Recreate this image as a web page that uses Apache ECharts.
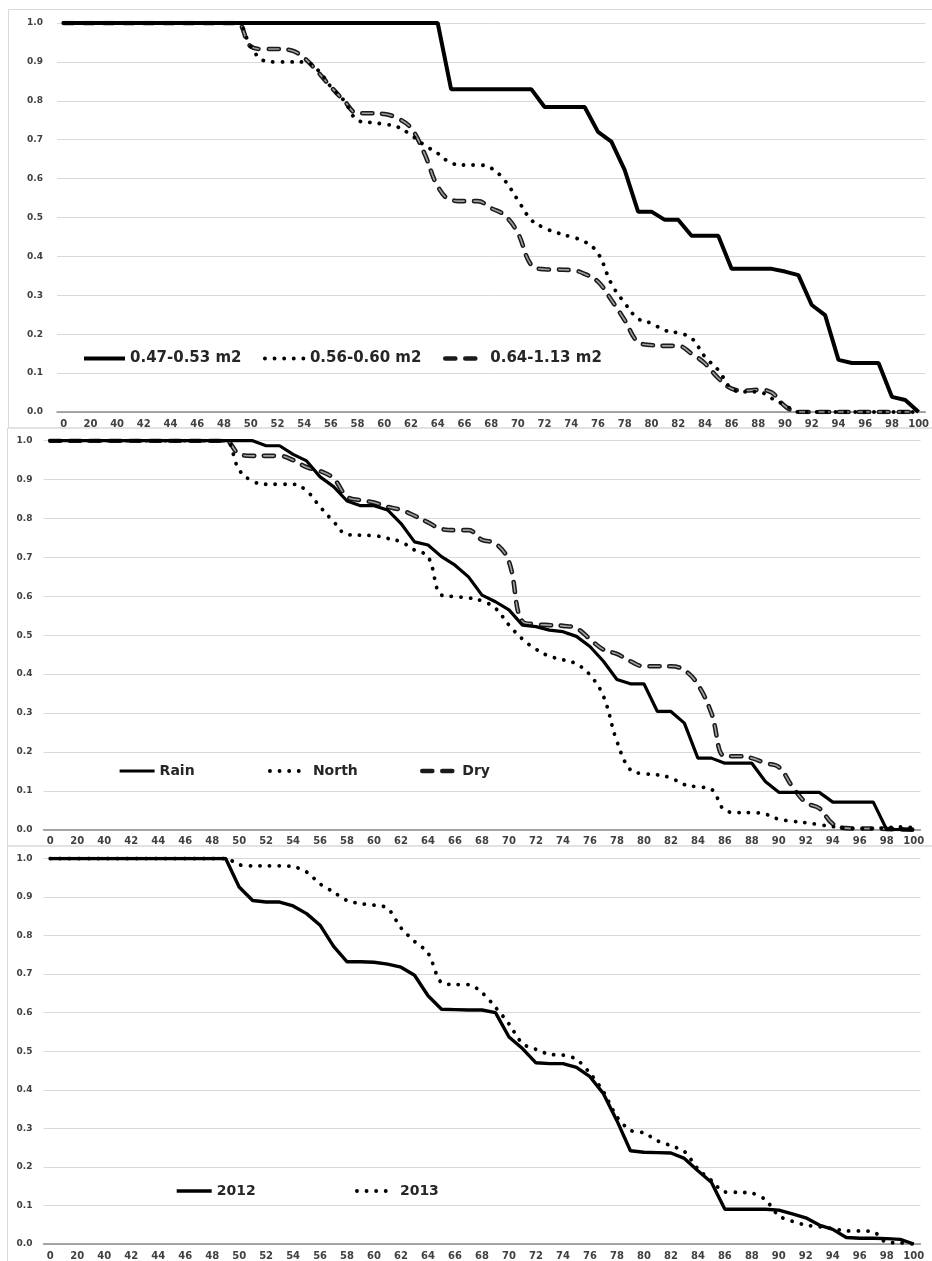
<!DOCTYPE html>
<html><head><meta charset="utf-8">
<script src="https://cdn.jsdelivr.net/npm/echarts@6.0.0/dist/echarts.min.js"></script>
<style>html,body{margin:0;padding:0;background:#fff}#c{width:932px;height:1261px}</style>
</head><body><div id="c"></div><script>
// categories (x axis)
const categories = ['0','10','20','30','40','41','42','43','44','45','46','47','48','49','50','51','52','53','54','55','56','57','58','59','60','61','62','63','64','65','66','67','68','69','70','71','72','73','74','75','76','77','78','79','80','81','82','83','84','85','86','87','88','89','90','91','92','93','94','95','96','97','98','99','100'];
const yTicks = [0,0.1,0.2,0.3,0.4,0.5,0.6,0.7,0.8,0.9,1.0];

// Panel 1
const size047 = [1,1,1,1,1,1,1,1,1,1,1,1,1,
 1,1,1,1,1,1,1,1,1,1,1,1,1,1,1,1,
 0.83,0.83,0.83,0.83,0.83,0.83,0.83,0.784,0.784,0.784,0.784,0.72,0.695,0.622,0.515,0.515,0.494,0.494,0.453,0.453,0.453,0.368,0.368,0.368,0.368,0.361,0.352,0.275,0.249,0.134,0.126,0.126,0.126,0.039,0.031,0];
const size056 = [1,1,1,1,1,1,1,1,1,1,1,1,1,
 1,0.94,0.903,0.90,0.90,0.90,0.88,0.836,0.80,0.75,0.744,0.74,0.733,0.712,0.686,0.665,
 0.64,0.635,0.635,0.627,0.596,0.545,0.494,0.473,0.46,0.45,0.438,0.408,0.33,0.28,0.24,0.228,0.21,0.203,0.19,0.142,0.108,0.06,0.052,0.052,0.035,0.018,0,0,0,0,0,0,0,0,0,0];
const size064 = [1,1,1,1,1,1,1,1,1,1,1,1,1,
 1,0.94,0.933,0.933,0.93,0.91,0.875,0.836,0.80,0.768,0.768,0.766,0.755,0.73,0.665,0.58,
 0.545,0.542,0.542,0.524,0.506,0.46,0.378,0.367,0.366,0.365,0.355,0.335,0.288,0.236,0.18,0.172,0.17,0.17,0.15,0.125,0.087,0.06,0.055,0.057,0.05,0.015,0,0,0,0,0,0,0,0,0,0];

// Panel 2
const rain = [1,1,1,1,1,1,1,1,1,1,1,1,1,
 1,1,1,0.987,0.987,0.965,0.948,0.907,0.882,0.845,0.833,0.833,0.822,0.787,0.74,0.732,
 0.702,0.68,0.65,0.603,0.586,0.565,0.526,0.522,0.513,0.509,0.497,0.471,0.433,0.386,0.375,0.375,0.304,0.304,0.274,0.184,0.184,0.171,0.171,0.171,0.124,0.096,0.096,0.096,0.096,0.071,0.071,0.071,0.071,0,0,0];
const north = [1,1,1,1,1,1,1,1,1,1,1,1,1,
 1,0.925,0.896,0.888,0.888,0.888,0.871,0.83,0.792,0.759,0.757,0.756,0.749,0.74,0.719,0.702,
 0.603,0.599,0.596,0.588,0.569,0.526,0.49,0.464,0.446,0.437,0.426,0.398,0.343,0.227,0.154,0.144,0.141,0.133,0.116,0.11,0.104,0.05,0.044,0.044,0.04,0.027,0.022,0.018,0.013,0.008,0.004,0.003,0.003,0.005,0.007,0.005];
const dry = [1,1,1,1,1,1,1,1,1,1,1,1,1,
 1,0.966,0.961,0.961,0.961,0.95,0.932,0.922,0.903,0.856,0.847,0.841,0.83,0.822,0.807,0.79,
 0.773,0.77,0.77,0.745,0.736,0.689,0.535,0.528,0.526,0.524,0.518,0.49,0.463,0.452,0.433,0.42,0.42,0.42,0.41,0.373,0.30,0.189,0.189,0.184,0.171,0.161,0.111,0.07,0.055,0.015,0.004,0.003,0.003,0.002,0.001,0];

// Panel 3
const y2012 = [1,1,1,1,1,1,1,1,1,1,1,1,1,
 1,0.926,0.891,0.887,0.887,0.877,0.857,0.827,0.772,0.732,0.732,0.731,0.726,0.718,0.697,0.644,
 0.609,0.608,0.607,0.607,0.60,0.537,0.507,0.47,0.468,0.468,0.458,0.434,0.39,0.32,0.242,0.238,0.237,0.236,0.222,0.19,0.16,0.09,0.09,0.09,0.09,0.088,0.078,0.068,0.049,0.038,0.017,0.015,0.015,0.014,0.012,0];
const y2013 = [1,1,1,1,1,1,1,1,1,1,1,1,1,
 1,0.984,0.981,0.981,0.981,0.979,0.965,0.934,0.913,0.891,0.883,0.879,0.871,0.82,0.785,0.755,
 0.678,0.673,0.673,0.652,0.614,0.571,0.52,0.505,0.492,0.49,0.479,0.443,0.395,0.33,0.295,0.288,0.268,0.255,0.24,0.195,0.165,0.135,0.134,0.132,0.115,0.073,0.059,0.049,0.045,0.04,0.034,0.034,0.032,0.004,0.003,0];

const FONT = 'DejaVu Sans';
const grids = [
  {left:57, top:23, width:875, height:389},
  {left:43.5, top:440.7, width:877, height:389},
  {left:43.5, top:858.5, width:877, height:390}
];
const labelMargins = [14, 11, 11];

const xAxes = grids.map((g,i)=>({
  gridIndex:i, type:'category', data:categories, boundaryGap:true,
  axisTick:{show:false},
  axisLine:{lineStyle:{color:'#8c8c8c', width:1.5}},
  axisLabel:{interval:1, fontSize:10, fontWeight:'bold', color:'#404040', margin:7, fontFamily:FONT}
}));
const yAxes = grids.map((g,i)=>({
  gridIndex:i, type:'value', min:yTicks[0], max:yTicks[yTicks.length-1], interval:0.1,
  axisLine:{show:false}, axisTick:{show:false},
  splitLine:{lineStyle:{color:'#d9d9d9', width:1}},
  axisLabel:{formatter:v=>v.toFixed(1), fontSize:9, fontWeight:'bold', color:'#404040', margin:labelMargins[i], fontFamily:FONT}
}));

const SOLID = (w)=>({color:'#000', width:w, type:'solid'});
const DOT = {color:'#000', width:3.8, type:[0.1, 9.5], cap:'round'};
const DASH_OUT = {color:'#1a1a1a', width:4.6, type:[10, 10], cap:'round'};
const DASH_IN = {color:'#a0a0a0', width:1.6, type:[10, 10], cap:'round'};

function mk(name, data, gi, ls, sm, z){
  return {name, type:'line', data, xAxisIndex:gi, yAxisIndex:gi, symbol:'none', smooth:sm,
    itemStyle:{color:ls.color}, lineStyle:ls, z};
}

const series = [
  mk('0.47-0.53 m2', size047, 0, SOLID(4), false, 3),
  mk('0.56-0.60 m2', size056, 0, DOT, 0.4, 4),
  mk('0.64-1.13 m2', size064, 0, DASH_OUT, 0.4, 2),
  mk('0.64-1.13 m2 inner', size064, 0, DASH_IN, 0.4, 2.5),
  mk('Rain', rain, 1, SOLID(3.2), false, 3),
  mk('North', north, 1, DOT, 0.4, 4),
  mk('Dry', dry, 1, DASH_OUT, 0.4, 2),
  mk('Dry inner', dry, 1, DASH_IN, 0.4, 2.5),
  mk('2012', y2012, 2, SOLID(3.4), false, 3),
  mk('2013', y2013, 2, DOT, 0.3, 4)
];

function leg(name, left, top, w, fs, ls){
  return {data:[name], left, top, itemWidth:w, itemHeight:12, selectedMode:false,
    itemStyle:{opacity:0}, lineStyle:Object.assign({}, ls),
    textStyle:{fontFamily:FONT, fontWeight:'bold', fontSize:fs, color:'#262626'}, padding:0};
}
const legends = [
  leg('0.47-0.53 m2', 82, 351, 41, 15, SOLID(4)),
  leg('0.56-0.60 m2', 263, 351, 40, 15, DOT),
  leg('0.64-1.13 m2', 443, 351, 40, 15, DASH_OUT),
  leg('Rain', 118, 764, 35, 14, SOLID(3.2)),
  leg('North', 268, 764, 38, 14, DOT),
  leg('Dry', 420, 764, 35, 14, DASH_OUT),
  leg('2012', 175, 1184, 35, 14, SOLID(3.4)),
  leg('2013', 355, 1184, 38, 14, DOT)
];

const chart = echarts.init(document.getElementById('c'), null, {renderer:'canvas'});
chart.setOption({
  backgroundColor:'#fff',
  animation:false,
  textStyle:{fontFamily:FONT},
  graphic:[
    {type:'rect', shape:{x:8.5, y:9.5, width:940, height:418.5}, style:{fill:'none', stroke:'#d9d9d9', lineWidth:1}, silent:true, z:-1},
    {type:'rect', shape:{x:7.5, y:428, width:940, height:418}, style:{fill:'none', stroke:'#d9d9d9', lineWidth:1}, silent:true, z:-1},
    {type:'rect', shape:{x:7.5, y:846, width:940, height:430}, style:{fill:'none', stroke:'#d9d9d9', lineWidth:1}, silent:true, z:-1}
  ],
  grid:grids,
  xAxis:xAxes,
  yAxis:yAxes,
  legend:legends,
  series
});
</script></body></html>
